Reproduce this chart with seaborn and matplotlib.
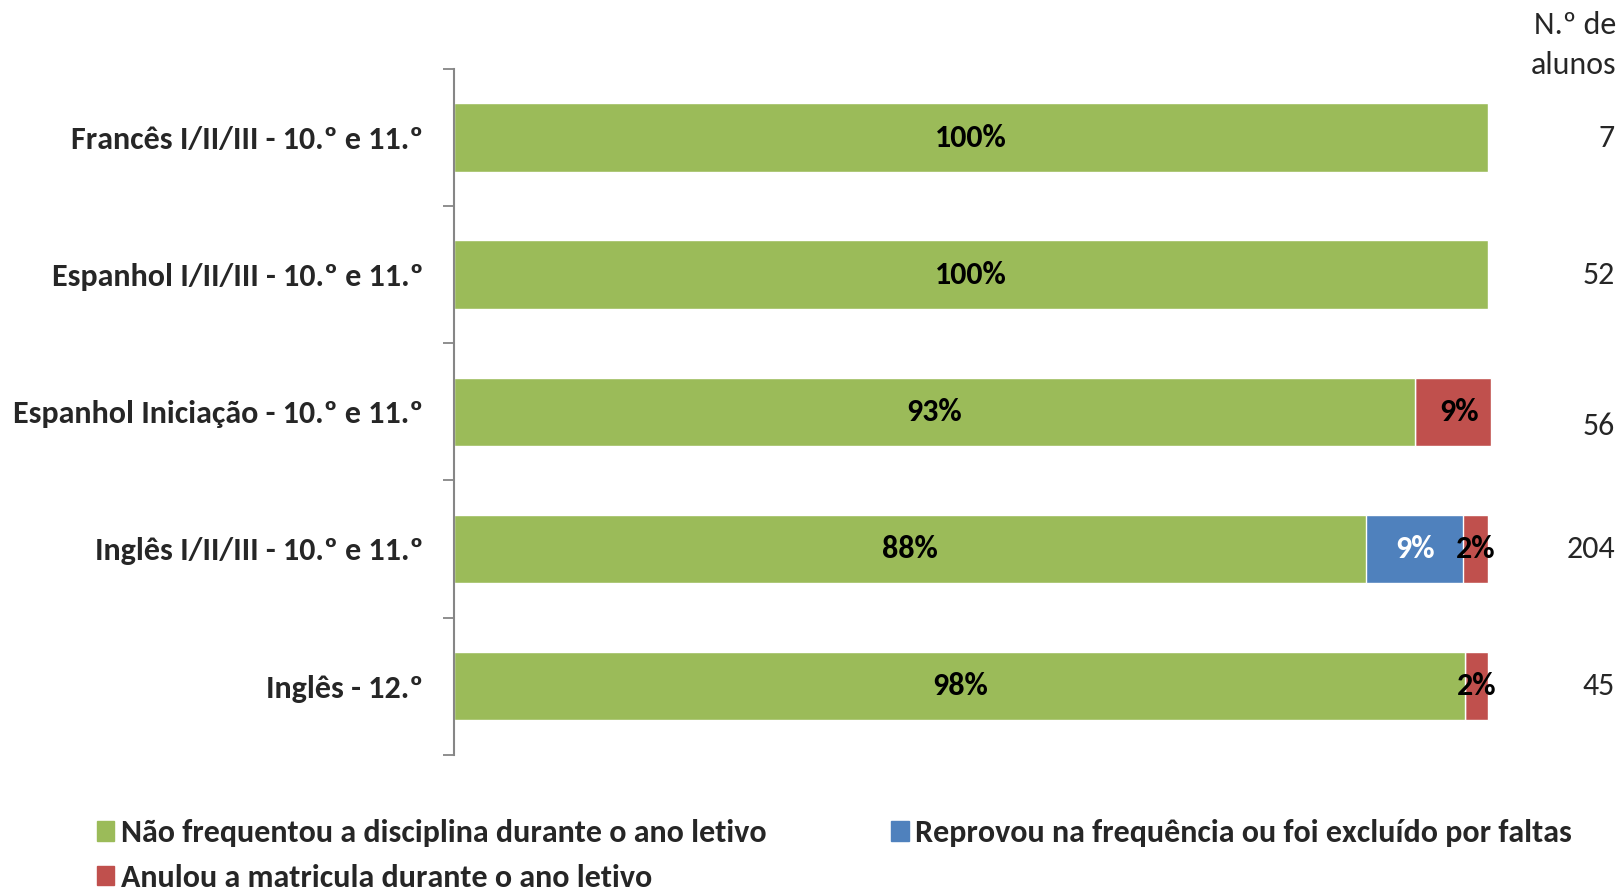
import numpy as np
import pandas as pd
import matplotlib
matplotlib.use("Agg")
import matplotlib.pyplot as plt
import seaborn as sns
from matplotlib.patches import Patch

# categories (top to bottom)
cursos = ["Francês I/II/III - 10.º e 11.º", "Espanhol I/II/III - 10.º e 11.º",
          "Espanhol Iniciação - 10.º e 11.º", "Inglês I/II/III - 10.º e 11.º",
          "Inglês - 12.º"]
# segment values (%)
nao_freq = [100, 100, 92.9, 88.2, 97.8]
reprovou = [0, 0, 0, 9.4, 0]
anulou = [0, 0, 7.4, 2.4, 2.2]
# labels printed in the chart
lbl_nao = ["100%", "100%", "93%", "88%", "98%"]
lbl_rep = ["", "", "", "9%", ""]
lbl_anu = ["", "", "9%", "2%", "2%"]
n_alunos = ["7", "52", "56", "204", "45"]

series_names = ["Não frequentou a disciplina durante o ano letivo",
                "Reprovou na frequência ou foi excluído por faltas",
                "Anulou a matricula durante o ano letivo"]
GREEN, BLUE, RED = "#9BBB59", "#4F81BD", "#C0504D"
FS = 23

sns.set_style("white")
plt.rcParams["font.family"] = ["Carlito", "Lato", "DejaVu Sans"]

df = pd.DataFrame({"curso": cursos, "nao": nao_freq, "rep": reprovou, "anu": anulou})
df["c1"] = df["nao"]
df["c2"] = df["nao"] + df["rep"]
df["c3"] = df["c2"] + df["anu"]

fig = plt.figure(figsize=(16.22, 8.9), dpi=100)
ax = fig.add_axes([0.280, 0.152, 0.6374, 0.7705])

# stacked bars: draw cumulative totals from back to front
sns.barplot(data=df, x="c3", y="curso", color=RED, width=0.5, orient="h", ax=ax, saturation=1)
sns.barplot(data=df, x="c2", y="curso", color=BLUE, width=0.5, orient="h", ax=ax, saturation=1)
sns.barplot(data=df, x="c1", y="curso", color=GREEN, width=0.5, orient="h", ax=ax, saturation=1)
for p in ax.patches:
    p.set_clip_on(False)

ax.set_xlim(0, 100)
ax.set_ylim(4.5, -0.5)
ax.set_xlabel("")
ax.set_ylabel("")
ax.set_xticks([])

# Excel-like ticks between categories, labels at centres
ax.set_yticks(np.arange(-0.5, 5, 1))
ax.set_yticklabels([])
ax.set_yticks(np.arange(len(cursos)), minor=True)
ax.set_yticklabels(cursos, minor=True, fontsize=FS, fontweight="bold")
ax.tick_params(axis="y", which="major", direction="out", length=8, width=1.3, color="#868686", left=True)
ax.tick_params(axis="y", which="minor", length=0, pad=22)

for s in ["top", "right", "bottom"]:
    ax.spines[s].set_visible(False)
ax.spines["left"].set_color("#868686")
ax.spines["left"].set_linewidth(1.5)

# data labels
for i in range(len(cursos)):
    a, b, c = df["c1"][i], df["c2"][i], df["c3"][i]
    ax.text(a / 2, i, lbl_nao[i], ha="center", va="center", fontsize=FS, fontweight="bold", color="black")
    if lbl_rep[i]:
        ax.text((a + b) / 2, i, lbl_rep[i], ha="center", va="center", fontsize=FS, fontweight="bold", color="white")
    if lbl_anu[i]:
        nudge = 0.6 if c - b > 5 else 0
        ax.text((b + c) / 2 + nudge, i, lbl_anu[i], ha="center", va="center", fontsize=FS, fontweight="bold",
                color="black", clip_on=False)

# number of students column
n_y = [0, 0, 0.1, 0, 0]
for i, n in enumerate(n_alunos):
    ax.annotate(n, xy=(1, i + n_y[i]), xycoords=("figure fraction", "data"), xytext=(-5, 0),
                textcoords="offset points", ha="right", va="center", fontsize=FS, annotation_clip=False)
fig.text(0.9965, 0.972, "N.º de", ha="right", va="center", fontsize=FS)
fig.text(0.9965, 0.927, "alunos", ha="right", va="center", fontsize=FS)

handles = [Patch(color=GREEN), Patch(color=RED), Patch(color=BLUE)]
labels = [series_names[0], series_names[2], series_names[1]]
fig.legend(handles, labels, ncol=2, loc="lower left", bbox_to_anchor=(0.042, -0.034), frameon=False,
           prop={"size": FS, "weight": "bold"}, handlelength=0.55, handleheight=0.55, handletextpad=0.2,
           columnspacing=3.9, labelspacing=0.51)

fig.savefig("out.png", dpi=100)
